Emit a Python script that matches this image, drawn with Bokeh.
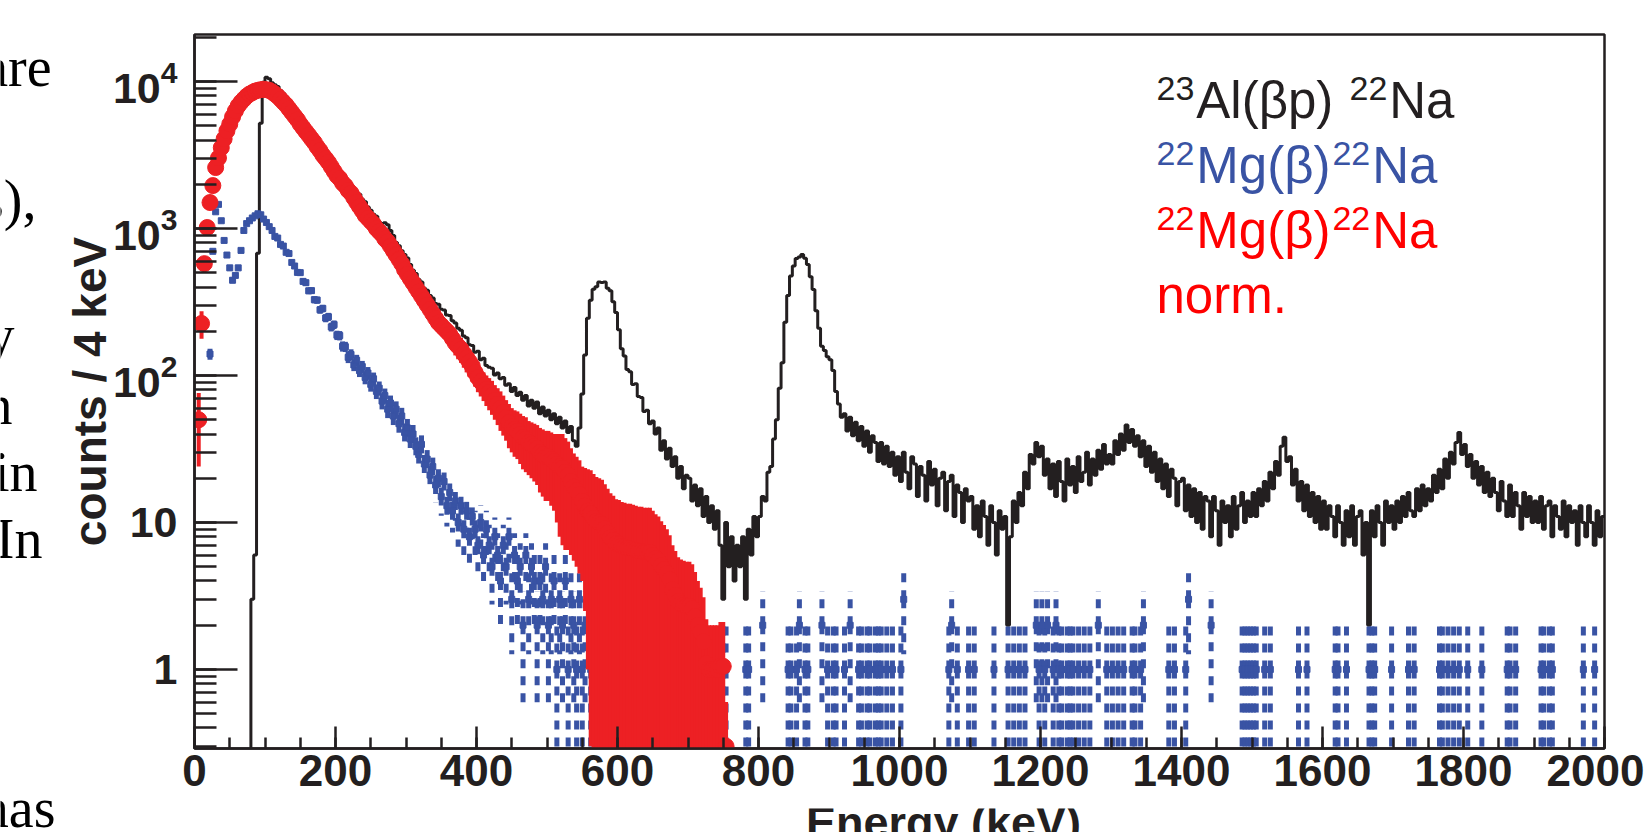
import math
from bokeh.plotting import figure
from bokeh.layouts import row, column
from bokeh.models import Label, SingleIntervalTicker, LogTicker, LogTickFormatter, Range1d
from bokeh.embed import file_html
from bokeh.resources import INLINE

# ---------------- data (4 keV bins, 0 - 2000 keV) ----------------
BIN_WIDTH = 4.0

# 23Al(beta p) 22Na spectrum, counts / 4 keV (black histogram)
black_counts = [
    0, 0, 0, 0, 0, 0, 0, 0, 0, 0, 0, 0, 0, 0, 0, 0, 0, 0, 0, 0, 3, 6, 680, 5200, 9900,
    10700, 10450, 9800, 9530, 9250, 8690, 8340, 7910, 7520, 7060, 6630, 6150, 5770, 5350, 5030, 4660, 4390, 4050, 3820, 3570, 3400, 3150, 3000, 2810, 2700,
    2520, 2390, 2300, 2180, 2100, 1990, 1870, 1770, 1710, 1580, 1520, 1400, 1330, 1250, 1210, 1110, 1080, 1095, 1060, 970, 895, 805, 765, 705, 665,
    630, 570, 520, 495, 450, 432, 392, 381, 350, 337, 309, 306, 282, 279, 258, 256, 236, 228, 210, 203, 186, 181, 162, 160, 144,
    146, 128, 131, 117, 114, 112, 101, 104, 95, 97, 86, 88, 78, 83, 73, 77, 68, 73, 62, 68, 60, 66, 55, 61, 53,
    58, 50, 55, 47, 52, 44, 49, 41, 45, 36, 33, 44, 75, 138, 245, 325, 386, 401, 432, 430, 433, 392, 377, 318, 268,
    205, 152, 136, 110, 106, 87, 88, 72, 71, 57, 58, 47, 49, 40, 44, 31, 36, 27, 32, 24, 28, 20, 24, 17, 21,
    20, 14, 18, 13, 17, 11, 15, 10, 13, 9, 12, 7, 3, 10, 5, 8, 4, 7, 5, 8, 3, 9, 6, 11, 8,
    11, 15, 14, 22, 24, 37, 50, 82, 122, 230, 350, 475, 555, 625, 640, 665, 628, 570, 470, 385, 276, 210, 158, 148, 134,
    128, 108, 78, 64, 52, 55, 42, 52, 39, 48, 36, 45, 33, 42, 30, 39, 35, 26, 35, 25, 33, 24, 30, 21, 28,
    19, 30, 22, 17, 28, 25, 15, 24, 21, 14, 26, 18, 23, 13, 20, 22, 12, 19, 21, 11, 18, 16, 10, 17, 14,
    15, 9, 13, 8, 14, 11, 7, 13, 10, 6, 12, 9, 11, 2, 8, 14, 10, 16, 13, 22, 17, 29, 25, 35, 28,
    33, 21, 27, 17, 25, 15, 26, 19, 14, 27, 18, 24, 16, 28, 19, 22, 30, 18, 27, 21, 31, 23, 34, 25, 29,
    25, 36, 29, 40, 31, 46, 35, 43, 33, 39, 28, 36, 24, 33, 22, 30, 19, 27, 17, 25, 15, 23, 20, 13, 19,
    20, 12, 18, 11, 17, 10, 16, 9, 15, 14, 8, 15, 12, 7, 14, 10, 13, 8, 15, 9, 13, 16, 10, 14, 11,
    16, 11, 17, 13, 19, 14, 22, 17, 26, 21, 33, 38, 26, 28, 18, 23, 14, 19, 12, 18, 11, 16, 10, 15, 9,
    14, 9, 13, 11, 8, 13, 10, 7, 12, 8, 13, 7, 11, 12, 6, 10, 2, 12, 8, 13, 10, 7, 14, 10, 13,
    9, 14, 10, 15, 11, 16, 12, 11, 17, 12, 18, 13, 17, 14, 21, 16, 23, 17, 27, 20, 30, 25, 35, 41, 29,
    34, 24, 29, 20, 26, 18, 24, 16, 22, 15, 20, 16, 12, 19, 14, 11, 18, 11, 16, 13, 9, 16, 11, 15, 10,
    14, 10, 15, 9, 13, 14, 8, 13, 11, 9, 14, 8, 13, 10, 12, 7, 13, 10, 8, 13, 10, 7, 12, 8, 11,
]

# 22Mg(beta) 22Na spectrum, raw counts / 4 keV (blue points)
blue_counts = [
    0, 0, 0, 0, 0, 140, 700, 1300, 1460, 1130, 830, 660, 540, 445, 480, 540, 710, 970, 1080, 1130, 1180, 1220, 1260, 1240, 1160,
    1100, 1030, 970, 884, 862, 780, 760, 689, 676, 588, 556, 503, 501, 437, 428, 377, 378, 328, 326, 280, 286, 246, 251, 214, 222,
    188, 187, 158, 157, 133, 139, 118, 127, 108, 115, 97, 104, 87, 95, 78, 82, 67, 73, 59, 65, 53, 59, 47, 53, 41,
    44, 37, 40, 33, 29, 34, 25, 27, 21, 24, 18, 20, 15, 19, 13, 16, 12, 14, 10, 13, 9, 12, 8, 11, 9,
    7, 10, 6, 9, 7, 5, 8, 6, 4, 7, 5, 8, 3, 6, 4, 5, 2, 6, 3, 5, 4, 2, 4, 3, 5,
    2, 3, 4, 1, 3, 2, 4, 1, 3, 2, 1, 3, 1, 2, 0, 1, 0, 1, 0, 0, 2, 0, 1, 0, 0,
    1, 0, 0, 1, 0, 0, 2, 0, 0, 1, 0, 0, 1, 0, 0, 0, 1, 0, 0, 0, 1, 0, 0, 1, 0,
    0, 1, 0, 0, 0, 1, 0, 0, 0, 0, 0, 0, 1, 1, 0, 0, 0, 0, 0, 0, 1, 1, 0, 0, 0,
    0, 2, 0, 0, 0, 0, 0, 0, 0, 0, 1, 1, 0, 1, 2, 0, 1, 1, 0, 0, 0, 0, 2, 0, 1,
    0, 1, 1, 0, 0, 1, 0, 2, 0, 0, 1, 1, 0, 1, 1, 0, 1, 1, 1, 0, 1, 0, 1, 0, 0,
    1, 3, 0, 0, 0, 0, 0, 0, 0, 0, 0, 0, 0, 0, 0, 0, 0, 1, 2, 0, 1, 0, 0, 0, 1,
    0, 1, 0, 0, 0, 0, 0, 0, 1, 0, 0, 0, 0, 1, 0, 1, 0, 1, 0, 1, 0, 0, 0, 2, 1,
    2, 1, 2, 0, 1, 2, 1, 1, 0, 1, 1, 1, 0, 1, 0, 1, 0, 1, 0, 0, 2, 0, 0, 1, 0,
    1, 0, 1, 0, 1, 0, 0, 1, 1, 0, 1, 2, 0, 0, 0, 0, 0, 0, 0, 0, 1, 0, 1, 0, 0,
    0, 1, 3, 0, 0, 0, 0, 0, 0, 0, 2, 0, 0, 0, 0, 0, 0, 0, 0, 0, 0, 1, 1, 1, 1,
    1, 1, 0, 0, 1, 0, 1, 0, 0, 0, 0, 0, 0, 0, 0, 0, 1, 0, 0, 1, 0, 0, 0, 0, 0,
    0, 0, 0, 0, 1, 1, 0, 0, 1, 0, 0, 0, 0, 0, 0, 0, 1, 1, 1, 0, 0, 0, 0, 0, 1,
    0, 0, 0, 0, 0, 1, 0, 1, 0, 0, 0, 0, 0, 0, 0, 0, 1, 1, 0, 1, 0, 1, 0, 1, 0,
    0, 1, 0, 0, 0, 0, 1, 0, 0, 0, 0, 0, 0, 0, 0, 1, 1, 0, 1, 0, 0, 0, 0, 0, 0,
    0, 0, 1, 1, 0, 1, 1, 0, 0, 0, 0, 0, 0, 0, 0, 0, 0, 1, 0, 0, 0, 1, 0, 0, 0,
]

# 22Mg(beta) 22Na normalised (red points), value and error per 4 keV bin (0 - 756 keV)
red_values = [
    0, 50, 226, 577, 1016, 1503, 1960, 2600, 3020, 3550, 4070, 4620, 5130, 5750, 6310, 6840, 7240, 7590, 7940, 8220, 8410, 8610, 8710, 8810, 8850,
    8810, 8710, 8510, 8220, 7940, 7590, 7240, 6920, 6530, 6170, 5820, 5500, 5130, 4840, 4570, 4320, 4070, 3850, 3590, 3390, 3160, 2990, 2820, 2630, 2450,
    2290, 2190, 2040, 1950, 1820, 1740, 1620, 1510, 1410, 1320, 1230, 1175, 1120, 1070, 1000, 955, 912, 851, 813, 759, 708, 661, 617, 575, 525,
    490, 457, 427, 398, 372, 347, 324, 302, 282, 263, 245, 229, 219, 209, 200, 191, 178, 166, 158, 151, 141, 132, 124, 116, 105,
    97, 91, 86, 81, 77, 73, 68, 64, 60, 56, 52, 48, 45, 43, 42, 40, 38, 37, 35, 34, 33, 32, 30, 29, 28,
    28, 27, 26, 25, 24, 23.5, 22, 21, 19, 17.5, 16.5, 15.5, 14, 13, 12, 11.5, 10.7, 10.2, 10.0, 9.75, 9.1, 8.5, 7.9, 7.6, 7.2,
    7.1, 6.9, 6.8, 6.7, 6.7, 6.6, 6.5, 6.4, 6.4, 6.3, 6.3, 6.3, 6.0, 5.7, 5.5, 5.1, 4.8, 4.5, 4.1, 3.5, 3.2, 2.9, 2.8, 2.75, 2.7,
    2.7, 2.6, 2.3, 2.0, 1.8, 1.55, 1.1, 1.0, 1.0, 1.0, 1.0, 1.05, 1.05, 0.3,
]
red_errors = [
    0, 26, 48, 60, 80, 100, 110, 120, 130, 120, 130, 140, 150, 160, 170, 180, 190, 200, 210, 210, 215, 220, 220, 220, 220,
    220, 218, 213, 206, 199, 190, 181, 173, 163, 154, 146, 138, 128, 121, 114, 108, 102, 96, 90, 85, 79, 75, 71, 66, 61,
    57, 55, 51, 49, 46, 44, 41, 38, 36, 34, 37, 37, 36, 36, 35, 35, 36, 35, 35, 36, 35, 34, 33, 34, 32,
    34, 33, 32, 32, 32, 31, 31, 30, 30, 30, 29, 30, 30, 30, 30, 30, 30, 29, 29, 29, 28, 27, 26, 25, 21,
    20, 19, 19, 19, 19, 19, 18, 18, 18, 17, 16, 16, 15, 15, 15, 15, 15, 15, 14, 14, 14, 14, 14, 14, 14,
    14, 14, 14, 15, 16, 16.5, 15.5, 14.5, 13, 12, 11.5, 11, 10, 10.5, 11, 11.2, 10.7, 10.2, 10.0, 9.75, 9.1, 8.5, 7.9, 7.6, 7.2,
    7.1, 6.9, 6.8, 6.7, 6.7, 6.6, 6.5, 6.4, 6.4, 6.3, 6.3, 6.3, 6.0, 5.7, 5.5, 5.1, 4.8, 4.5, 4.1, 3.5, 3.2, 2.9, 2.8, 2.75, 2.7,
    2.7, 2.6, 2.3, 2.0, 1.8, 1.55, 1.1, 1.0, 1.0, 1.0, 1.0, 1.05, 1.05, 0.3,
]

# decades 1 and 10 are written plainly, higher ones as powers of ten (10^2, 10^3, 10^4)
y_tick_plain = {1: "1", 10: "10"}

legend_pieces = [
    [("23", True), ("Al(βp) ", False), ("22", True), ("Na", False)],
    [("22", True), ("Mg(β)", False), ("22", True), ("Na", False)],
    [("22", True), ("Mg(β)", False), ("22", True), ("Na", False)],
    [("norm.", False)],
]
y_title = "counts / 4 keV"
x_title = "Energy (keV)"
body_words = ["are", "s),", "y", "n", "in", "In", "has"]

# ---------------- styling / layout (page pixel coordinates) ----------------
W, H = 1644, 832
BODY_W = 55                 # strip with the article text on the left
H_MAIN = 808                # height of the main figure; below it the cut x-title strip
FRAME_L, FRAME_R, FRAME_T, FRAME_B = 194, 1604, 34, 748
X_RANGE = (0, 2000)
Y_RANGE = (0.29, 20900)
LY0, LY1 = math.log10(Y_RANGE[0]), math.log10(Y_RANGE[1])
BASE_SHIFT = 0.33           # label box offset (em) between its anchor and the alphabetic baseline

BLACK = "#231F20"
RED = "#ED2024"
BLUE = "#3953A4"
LEG_COLORS = [BLACK, BLUE, "#FF0000", "#FF0000"]
FLOOR = 1e-3


def data_x(px):
    return X_RANGE[0] + (px - FRAME_L) * (X_RANGE[1] - X_RANGE[0]) / (FRAME_R - FRAME_L)


def data_y(py):
    return 10 ** (LY0 + (FRAME_B - py) * (LY1 - LY0) / (FRAME_B - FRAME_T))


p = figure(width=W - BODY_W, height=H_MAIN, x_range=X_RANGE, y_range=Y_RANGE, y_axis_type="log",
           output_backend="svg", toolbar_location=None, title=None,
           min_border_left=FRAME_L - BODY_W, min_border_right=W - FRAME_R,
           min_border_top=FRAME_T, min_border_bottom=H_MAIN - FRAME_B)
p.background_fill_color = "white"
p.border_fill_color = "white"
p.xgrid.visible = False
p.ygrid.visible = False
p.outline_line_color = BLACK
p.outline_line_width = 2.5

# x axis
p.xaxis.ticker = SingleIntervalTicker(interval=200, num_minor_ticks=4)
p.xaxis.major_tick_in = 22
p.xaxis.major_tick_out = 0
p.xaxis.minor_tick_in = 11
p.xaxis.minor_tick_out = 0
p.xaxis.major_label_standoff = 6
# y axis
p.yaxis.ticker = LogTicker(num_minor_ticks=10)
p.yaxis.formatter = LogTickFormatter()
p.yaxis.major_label_overrides = y_tick_plain
p.yaxis.major_tick_in = 43
p.yaxis.major_tick_out = 0
p.yaxis.minor_tick_in = 22
p.yaxis.minor_tick_out = 0
p.yaxis.major_label_standoff = 17
p.yaxis.axis_label = y_title
p.yaxis.axis_label_text_font = "Liberation Sans"
p.yaxis.axis_label_text_font_style = "bold"
p.yaxis.axis_label_text_font_size = "46px"
p.yaxis.axis_label_text_color = BLACK
p.yaxis.axis_label_standoff = -6
for ax, fs, fam in ((p.xaxis, "44px", "Liberation Sans"), (p.yaxis, "43px", "Arial")):
    ax.axis_line_color = BLACK
    ax.axis_line_width = 2.5
    ax.major_tick_line_color = BLACK
    ax.major_tick_line_width = 2.5
    ax.minor_tick_line_color = BLACK
    ax.minor_tick_line_width = 2.5
    ax.major_label_text_font = fam
    ax.major_label_text_font_style = "bold"
    ax.major_label_text_font_size = fs
    ax.major_label_text_color = BLACK

# black histogram (step)
n = len(black_counts)
edges = [BIN_WIDTH * i for i in range(n + 1)]
black_y = [c if c > 0 else FLOOR for c in black_counts]
black_y.append(black_y[-1])
p.step(edges, black_y, mode="after", line_color=BLACK, line_width=3)

# blue points with dashed Poisson error bars
bx, bv, blo, bhi = [], [], [], []
for i, c in enumerate(blue_counts):
    if c > 0:
        bx.append(BIN_WIDTH * (i + 0.5))
        bv.append(c)
        s = math.sqrt(c)
        blo.append(max(c - s, FLOOR))
        bhi.append(c + s)
p.segment(x0=bx, y0=bv, x1=bx, y1=blo, line_color=BLUE, line_width=5, line_dash="9 8")
p.segment(x0=bx, y0=bv, x1=bx, y1=bhi, line_color=BLUE, line_width=5, line_dash="9 8")
p.scatter(bx, bv, marker="square", size=6, fill_color=BLUE, line_color=BLUE)

# red normalised points with error bars
rx, rv, rlo, rhi = [], [], [], []
for i, (v, e) in enumerate(zip(red_values, red_errors)):
    if v > 0:
        rx.append(BIN_WIDTH * (i + 0.5))
        rv.append(v)
        rlo.append(max(v - e, FLOOR))
        rhi.append(v + e)
p.segment(x0=rx, y0=rlo, x1=rx, y1=rhi, line_color=RED, line_width=4)
p.scatter(rx, rv, marker="circle", size=16, fill_color=RED, line_color=RED)

# legend text (TLatex-like with superscripts)
ADV = {"2": 556, "3": 556, "A": 667, "l": 222, "(": 333, ")": 333, "β": 575, "p": 556,
       " ": 278, "N": 722, "a": 556, "M": 833, "g": 556, "n": 556, "o": 556, "r": 333,
       "m": 833, ".": 278}
MAIN_FS, SUP_FS, SUP_RAISE = 51, 34, 18
LEG_X = 1156
LEG_BASE = [117, 182, 247, 312]


def tw(s, fs):
    return sum(ADV.get(ch, 556) for ch in s) * fs / 1000.0


for pieces, base, col in zip(legend_pieces, LEG_BASE, LEG_COLORS):
    x = LEG_X
    for txt, sup in pieces:
        fs = SUP_FS if sup else MAIN_FS
        yb = (base - SUP_RAISE if sup else base) - BASE_SHIFT * fs
        p.add_layout(Label(x=data_x(x), y=data_y(yb), text=txt.rstrip(),
                           text_font="Liberation Sans", text_font_size=f"{fs}px",
                           text_color=col, text_align="left", text_baseline="alphabetic"))
        x += tw(txt, fs) + 2

# ---- strip below the main figure: x-axis title, cut by the page bottom ----
tf = figure(width=W - BODY_W, height=H - H_MAIN, x_range=Range1d(BODY_W, W), y_range=Range1d(H, H_MAIN),
            output_backend="svg", toolbar_location=None, title=None, min_border=0,
            x_axis_location=None, y_axis_location=None)
tf.outline_line_color = None
tf.xgrid.visible = False
tf.ygrid.visible = False
TITLE_FS = 45
tf.add_layout(Label(x=(FRAME_L + FRAME_R) / 2, y=837 - BASE_SHIFT * TITLE_FS, text=x_title,
                    text_font="Liberation Sans", text_font_style="bold", text_font_size=f"{TITLE_FS}px",
                    text_color=BLACK, text_align="center", text_baseline="alphabetic"))

# ---- strip on the left: fragments of the surrounding article text ----
bf = figure(width=BODY_W, height=H, x_range=Range1d(0, BODY_W), y_range=Range1d(H, 0),
            output_backend="svg", toolbar_location=None, title=None, min_border=0,
            x_axis_location=None, y_axis_location=None)
bf.outline_line_color = None
bf.xgrid.visible = False
bf.ygrid.visible = False
BODY_FS = 56
BODY_POS = [(51, 85), (36, 218), (14, 353), (12, 423), (37, 490), (42, 557), (55, 826)]
for word, (rx_px, by_px) in zip(body_words, BODY_POS):
    bf.add_layout(Label(x=rx_px, y=by_px - BASE_SHIFT * BODY_FS, text=word,
                        text_font="Liberation Serif", text_font_size=f"{BODY_FS}px",
                        text_color="black", text_align="right", text_baseline="alphabetic"))

layout = row(bf, column(p, tf))
open("out.html", "w").write(file_html(layout, INLINE, "spectrum"))
